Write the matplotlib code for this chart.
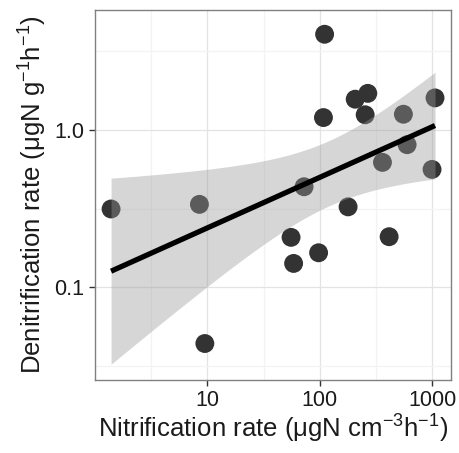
import numpy as np
import matplotlib
matplotlib.use("Agg")
import matplotlib.pyplot as plt
from matplotlib.ticker import FixedLocator, FixedFormatter, NullFormatter

plt.rcParams['font.family'] = ['Liberation Sans', 'DejaVu Sans']
plt.rcParams['mathtext.fontset'] = 'custom'
plt.rcParams['mathtext.rm'] = 'Liberation Sans'
plt.rcParams['mathtext.it'] = 'Liberation Sans:italic'
plt.rcParams['mathtext.bf'] = 'Liberation Sans:bold'

# Data
nitrification = [1.39, 8.5, 9.5, 55.6, 58.6, 72.6, 97.8, 110.6, 108, 179,
                 207, 268, 254, 362, 415, 556, 600, 1000, 1063]
denitrification = [0.315, 0.337, 0.044, 0.208, 0.142, 0.436, 0.166, 4.06, 1.20, 0.325,
                   1.57, 1.71, 1.25, 0.623, 0.210, 1.26, 0.807, 0.562, 1.60]
x_ticks = [10, 100, 1000]
x_tick_labels = ["10", "100", "1000"]
y_ticks = [0.1, 1.0]
y_tick_labels = ["0.1", "1.0"]
x_minor = [10**0.5, 10**1.5, 10**2.5]
y_minor = [10**-1.5, 10**-0.5, 10**0.5]

# Linear fit on log-log scale with 95% confidence band
lx = np.log10(nitrification)
ly = np.log10(denitrification)
n = len(lx)
slope, intercept = np.polyfit(lx, ly, 1)
resid = ly - (slope * lx + intercept)
s = np.sqrt(np.sum(resid**2) / (n - 2))
sxx = np.sum((lx - lx.mean())**2)
t_crit = 2.110  # t(0.975, df=17)
gx = np.linspace(lx.min(), lx.max(), 80)
gy = slope * gx + intercept
se = s * np.sqrt(1.0 / n + (gx - lx.mean())**2 / sxx)
lo = gy - t_crit * se
hi = gy + t_crit * se

fig = plt.figure(figsize=(4.59, 4.53), dpi=100)
ax = fig.add_axes([95/459, 1 - 380/453, (451 - 95)/459, (380 - 10)/453])
ax.set_xscale('log')
ax.set_yscale('log')

ax.scatter(nitrification, denitrification, s=185, color='#333333', edgecolors='none', zorder=3)
ax.fill_between(10**gx, 10**lo, 10**hi, color='#999999', alpha=0.4, linewidth=0, zorder=4)
ax.plot(10**gx, 10**gy, color='black', linewidth=3.8, zorder=5, solid_capstyle='butt')

ax.set_xlim(1.0, 1475)
ax.set_ylim(0.0258, 5.79)

ax.xaxis.set_major_locator(FixedLocator(x_ticks))
ax.xaxis.set_major_formatter(FixedFormatter(x_tick_labels))
ax.yaxis.set_major_locator(FixedLocator(y_ticks))
ax.yaxis.set_major_formatter(FixedFormatter(y_tick_labels))
ax.xaxis.set_minor_locator(FixedLocator(x_minor))
ax.yaxis.set_minor_locator(FixedLocator(y_minor))
ax.xaxis.set_minor_formatter(NullFormatter())
ax.yaxis.set_minor_formatter(NullFormatter())

ax.grid(which='major', color='#e3e3e3', linewidth=0.9, zorder=0)
ax.grid(which='minor', color='#f3f3f3', linewidth=0.9, zorder=0)
ax.set_axisbelow(True)

ax.tick_params(which='major', length=4.5, width=1.0, color='#333333',
               labelsize=15.5, labelcolor='#1a1a1a', pad=3)
ax.tick_params(which='minor', length=0)
for sp in ax.spines.values():
    sp.set_color('#808080')
    sp.set_linewidth(1.0)

ax.set_xlabel(r'Nitrification rate (μgN cm$^{-3}$h$^{-1}$)', fontsize=18.5, color='#1a1a1a', labelpad=1)
ax.set_ylabel(r'Denitrification rate (μgN g$^{-1}$h$^{-1}$)', fontsize=18.5, color='#1a1a1a', labelpad=4)

fig.savefig('out.png', dpi=100)
